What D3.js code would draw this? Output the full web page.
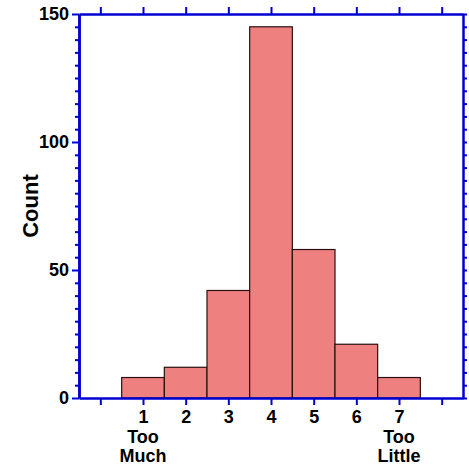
<!DOCTYPE html>
<html>
<head>
<meta charset="utf-8">
<script src="https://cdn.jsdelivr.net/npm/d3@7"></script>
<style>
body{margin:0;background:#fff}
</style>
</head>
<body>
<div id="chart"></div>
<script>
const categories=[1,2,3,4,5,6,7]
const counts=[8,12,42,145,58,21,8]
const xTickLabels=["1","2","3","4","5","6","7"]
const yTicks=[0,50,100,150]

const W=469,H=470
const m={left:79,right:6,top:14,bottom:72}
const FONT="'Liberation Sans',Arial,sans-serif"

const svg=d3.select("#chart").append("svg")
.attr("width",W).attr("height",H)

const x=d3.scaleLinear().domain([-0.5,8.5]).range([m.left,W-m.right])
const y=d3.scaleLinear().domain([0,150]).range([H-m.bottom,m.top])

const blue="#0000d0"

// bars
svg.append("g").selectAll("rect")
.data(categories)
.enter().append("rect")
.attr("x",(d)=>x(d-0.5))
.attr("width",(d)=>x(d+0.5)-x(d-0.5))
.attr("y",(d,i)=>y(counts[i]))
.attr("height",(d,i)=>y(0)-y(counts[i]))
.attr("fill","#ee8080")
.attr("stroke","#2a1010")
.attr("stroke-width",1.2)

const minorY=d3.range(0,151,5).filter(v=>v%50!==0)
const xt=d3.range(0,9)

// left axis
const left=svg.append("g").attr("transform",`translate(${m.left},0)`)
.call(d3.axisLeft(y).tickValues(yTicks).tickSize(7).tickSizeOuter(0).tickPadding(3))
left.append("g").call(d3.axisLeft(y).tickValues(minorY).tickSize(4).tickFormat("").tickSizeOuter(0))

// right axis
svg.append("g").attr("transform",`translate(${W-m.right},0)`)
.call(d3.axisRight(y).tickValues(minorY.concat(yTicks)).tickSize(4).tickFormat("").tickSizeOuter(0))

// bottom axis
const bottom=svg.append("g").attr("transform",`translate(0,${H-m.bottom})`)
.call(d3.axisBottom(x).tickValues(xt).tickSize(7).tickSizeOuter(0).tickPadding(5)
.tickFormat(d=>(d>=1&&d<=7)?xTickLabels[d-1]:""))

// top axis
svg.append("g").attr("transform",`translate(0,${m.top})`)
.call(d3.axisTop(x).tickValues(xt).tickSize(7).tickFormat("").tickSizeOuter(0))

svg.selectAll(".domain").attr("stroke",blue).attr("stroke-width",2.5)
svg.selectAll(".tick line").attr("stroke",blue).attr("stroke-width",2)
svg.selectAll(".tick text").attr("font-size",18).attr("font-family",FONT)
.attr("font-weight","bold").attr("fill","#000")

// category notes
const notes=[{v:1,l:["Too","Much"]},{v:7,l:["Too","Little"]}]
notes.forEach(n=>{
n.l.forEach((s,i)=>{
svg.append("text").attr("x",x(n.v)).attr("y",443+i*19)
.attr("text-anchor","middle").attr("font-size",18)
.attr("font-family",FONT).attr("font-weight","bold").text(s)
})
})

svg.append("text")
.attr("transform",`translate(38,${(y(0)+y(150))/2}) rotate(-90)`)
.attr("text-anchor","middle").attr("font-size",22)
.attr("font-family",FONT).attr("font-weight","bold").text("Count")
</script>
</body>
</html>
